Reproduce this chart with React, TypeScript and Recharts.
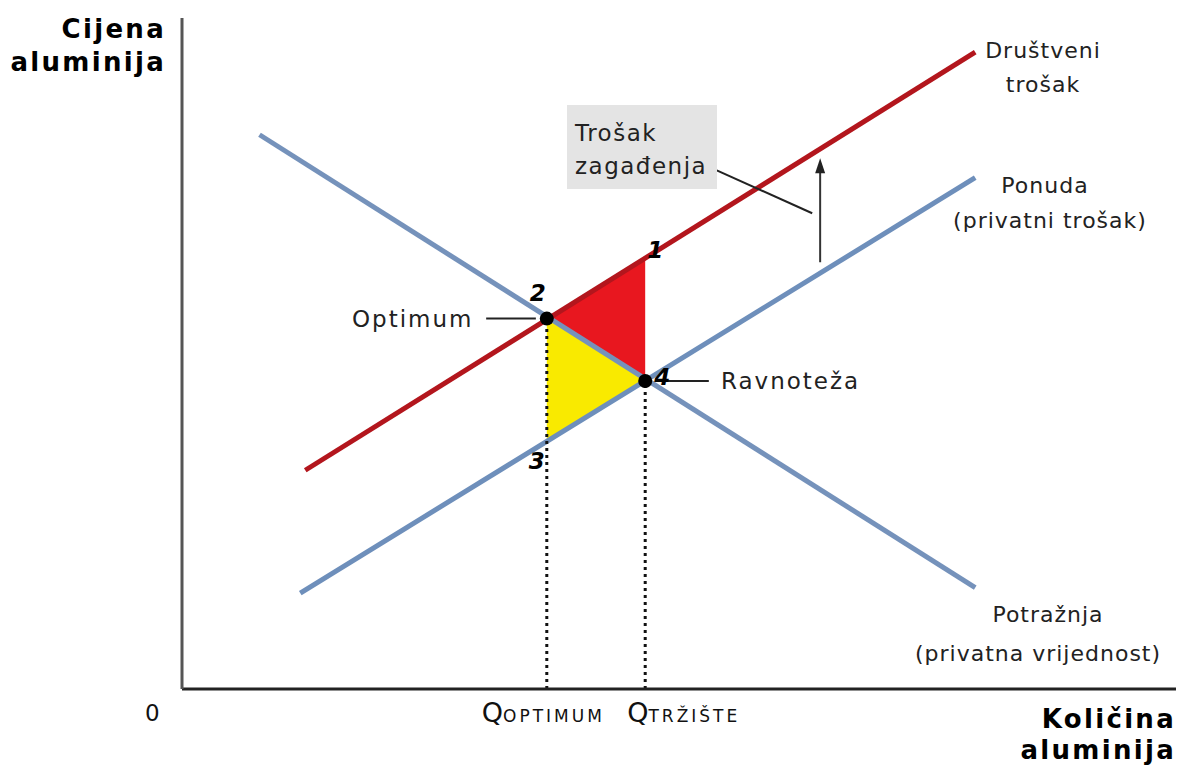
import React from 'react'
import {
  ComposedChart, Line, Area, Scatter, XAxis, YAxis, ReferenceLine, ReferenceDot,
} from 'recharts'

// quantity / price values (axis 0..100)
const socialCost = [{ q: 12.4, p: 32.6 }, { q: 79.8, p: 94.9 }]
const supply = [{ q: 11.9, p: 14.3 }, { q: 79.8, p: 76.2 }]
const demand = [{ q: 7.8, p: 82.6 }, { q: 79.8, p: 15.1 }]

const Q_OPT = 36.7
const Q_MKT = 46.6
const P1 = 64.2 // social cost at market quantity
const P2 = 55.2 // optimum price
const P3 = 36.9 // private cost at optimum quantity
const P4 = 45.9 // market equilibrium price

const deadweight = [{ q: Q_OPT, range: [P2, P2] }, { q: Q_MKT, range: [P4, P1] }]
const surplusLoss = [{ q: Q_OPT, range: [P3, P2] }, { q: Q_MKT, range: [P4, P4] }]

const eqPoints = [{ q: Q_OPT, p: P2 }, { q: Q_MKT, p: P4 }]
const numbered = [
  { q: Q_MKT, p: P1, label: '1' },
  { q: Q_OPT, p: P2, label: '2' },
  { q: Q_OPT, p: P3, label: '3' },
  { q: Q_MKT, p: P4, label: '4' },
]
const optLine = [{ q: Q_OPT, p: 0 }, { q: Q_OPT, p: P2 }]
const mktLine = [{ q: Q_MKT, p: 0 }, { q: Q_MKT, p: P4 }]
const xTicks = [0, Q_OPT, Q_MKT]

const FONT = '"DejaVu Sans", Verdana, sans-serif'
const numOffset: Record<string, [number, number]> = {
  '1': [10, -8], '2': [-9, -26], '3': [-10, 20], '4': [17, -4],
}

const QTick = (props: any) => {
  const { x, y, payload } = props
  if (payload.value === 0) {
    return <text x={x - 37} y={y + 24} fontFamily={FONT} fontSize={23} fill="#111">0</text>
  }
  const sub = payload.value === Q_OPT ? 'OPTIMUM' : 'TRŽIŠTE'
  const sx = payload.value === Q_OPT ? x - 65 : x - 18
  return (
    <text x={sx} y={y + 25} fontFamily={FONT} fill="#111">
      <tspan fontSize={27}>Q</tspan>
      <tspan fontSize={17} letterSpacing={3}>{sub}</tspan>
    </text>
  )
}

const NumLabel = (props: any) => {
  const { cx, cy, payload } = props
  const [dx, dy] = numOffset[payload.label]
  return (
    <text x={cx + dx} y={cy + dy} fontFamily={FONT} fontSize={23} fontWeight="bold"
      fontStyle="italic" fill="#000" textAnchor="middle" dominantBaseline="central">
      {payload.label}
    </text>
  )
}

const Dot = (props: any) => <circle cx={props.cx} cy={props.cy} r={7} fill="#000" />

const ArrowHead = (props: any) => {
  const { cx, cy } = props
  return <path d={`M${cx},${cy - 6} L${cx - 5},${cy + 9} L${cx + 5},${cy + 9} Z`} fill="#222" />
}

const txt = { fontFamily: FONT, fontSize: 22, fill: '#222', letterSpacing: 1 }
const boxTxt = { fontFamily: FONT, fontSize: 23, fill: '#222', letterSpacing: 1.5 }
const big = { fontFamily: FONT, fontSize: 23, fill: '#222', letterSpacing: 2 }
const bold = { fontFamily: FONT, fontSize: 26, fontWeight: 'bold' as const, fill: '#000', letterSpacing: 2.3 }

export default function App() {
  return (
    <div style={{ position: 'absolute', left: 0, top: 0, width: 1182, height: 770, background: '#fff' }}>
      <ComposedChart width={1182} height={770} margin={{ top: 18, right: 6, bottom: 51, left: 172 }}>
        <XAxis type="number" dataKey="q" domain={[0, 100]} ticks={xTicks} height={30}
          axisLine={{ stroke: '#222', strokeWidth: 3 }} tickLine={false} tick={<QTick />} interval={0} />
        <YAxis type="number" dataKey="p" domain={[0, 100]} width={10} tick={false} tickLine={false}
          axisLine={{ stroke: '#555', strokeWidth: 3 }} />
        <Area data={deadweight} dataKey="range" type="linear" stroke="none" fill="#e8171f"
          fillOpacity={1} isAnimationActive={false} />
        <Area data={surplusLoss} dataKey="range" type="linear" stroke="none" fill="#f9ea00"
          fillOpacity={1} isAnimationActive={false} />
        <Line data={demand} dataKey="p" type="linear" stroke="#7592bb" strokeWidth={5} dot={false} isAnimationActive={false} />
        <Line data={supply} dataKey="p" type="linear" stroke="#6e8fbb" strokeWidth={5} dot={false} isAnimationActive={false} />
        <Line data={socialCost} dataKey="p" type="linear" stroke="#b3161d" strokeWidth={5} dot={false} isAnimationActive={false} />
        <Line data={optLine} dataKey="p" type="linear" stroke="#111" strokeWidth={3} strokeDasharray="3 4" dot={false} isAnimationActive={false} />
        <Line data={mktLine} dataKey="p" type="linear" stroke="#111" strokeWidth={3} strokeDasharray="3 4" dot={false} isAnimationActive={false} />
        <ReferenceLine segment={[{ x: 30.6, y: P2 }, { x: 35.6, y: P2 }]} stroke="#222" strokeWidth={2} />
        <ReferenceLine segment={[{ x: 48.2, y: P4 }, { x: 53.0, y: P4 }]} stroke="#222" strokeWidth={2} />
        <ReferenceLine segment={[{ x: 64.2, y: 63.6 }, { x: 64.2, y: 77.5 }]} stroke="#333" strokeWidth={2} />
        <ReferenceLine segment={[{ x: 53.8, y: 77.3 }, { x: 63.4, y: 70.9 }]} stroke="#222" strokeWidth={2} />
        <ReferenceDot x={64.2} y={78.2} r={5} shape={<ArrowHead />} />
        <Scatter data={eqPoints} dataKey="p" shape={<Dot />} isAnimationActive={false} />
        <Scatter data={numbered} dataKey="p" shape={<NumLabel />} isAnimationActive={false} />
      </ComposedChart>
      <svg width={1182} height={770} style={{ position: 'absolute', left: 0, top: 0, pointerEvents: 'none' }}>
        <text x={166} y={38} textAnchor="end" {...bold}>Cijena</text>
        <text x={166} y={71} textAnchor="end" {...bold}>aluminija</text>
        <text x={1176} y={728} textAnchor="end" {...bold}>Količina</text>
        <text x={1176} y={759} textAnchor="end" {...bold}>aluminija</text>
        <rect x={567} y={105} width={150} height={84} fill="#e4e4e4" />
        <text x={575} y={141} {...boxTxt}>Trošak</text>
        <text x={575} y={174} {...boxTxt}>zagađenja</text>
        <text x={1043} y={58} textAnchor="middle" {...txt}>Društveni</text>
        <text x={1043} y={92} textAnchor="middle" {...txt}>trošak</text>
        <text x={1045} y={193} textAnchor="middle" {...txt}>Ponuda</text>
        <text x={1050} y={228} textAnchor="middle" {...txt}>(privatni trošak)</text>
        <text x={1048} y={622} textAnchor="middle" {...txt}>Potražnja</text>
        <text x={1038} y={661} textAnchor="middle" {...txt}>(privatna vrijednost)</text>
        <text x={352} y={327} {...big}>Optimum</text>
        <text x={721} y={389} {...big}>Ravnoteža</text>
      </svg>
    </div>
  )
}
